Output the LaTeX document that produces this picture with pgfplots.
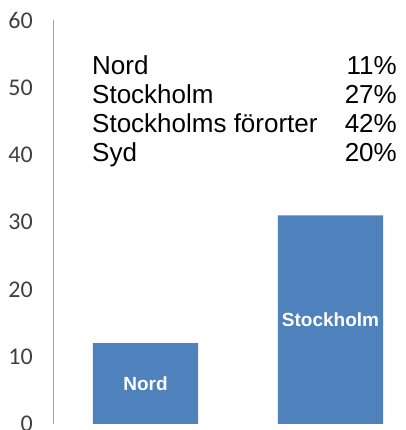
\documentclass[border=0pt]{standalone}
\usepackage{fontspec}
\setmainfont{Liberation Sans}
\newfontfamily\carlito{Carlito}
\usepackage{pgfplots}
\pgfplotsset{compat=1.18}
\definecolor{barblue}{RGB}{79,129,189}
\definecolor{axgray}{RGB}{166,166,166}
\definecolor{lblgray}{RGB}{64,64,64}
\begin{document}
\begin{tikzpicture}
\begin{axis}[
  scale only axis, width=353bp, height=404bp,
  xmin=-0.5, xmax=1.408, ymin=0, ymax=60,
  axis y line*=left, axis x line=none,
  ytick={0,10,...,60},
  major tick length=0pt,
  y axis line style={draw=axgray, line width=1pt, -},
  yticklabel style={font=\carlito\fontsize{24bp}{24bp}\selectfont, text=lblgray, anchor=east, inner sep=0pt, xshift=-20bp},
  /pgf/number format/assume math mode=true,
]
\addplot[ybar, bar width=0.568, fill=barblue, draw=none] coordinates {(0,12) (1,31)};
\addplot[draw=none, nodes near coords, point meta=explicit symbolic,
  nodes near coords style={anchor=center, text=white, inner sep=0pt, font=\bfseries\fontsize{19bp}{19bp}\selectfont}]
  coordinates {(0,6)[Nord] (1,15.5)[Stockholm]};
\end{axis}
\begin{scope}[every node/.style={inner sep=0pt, font=\fontsize{26bp}{26bp}\selectfont}]
\node[anchor=base west] at (39bp,349bp) {Nord};
\node[anchor=base west] at (39bp,320bp) {Stockholm};
\node[anchor=base west] at (39bp,291bp) {Stockholms förorter};
\node[anchor=base west] at (39bp,262bp) {Syd};
\node[anchor=base east] at (344bp,349bp) {11\%};
\node[anchor=base east] at (344bp,320bp) {27\%};
\node[anchor=base east] at (344bp,291bp) {42\%};
\node[anchor=base east] at (344bp,262bp) {20\%};
\end{scope}
\pgfresetboundingbox
\path[use as bounding box] (-53bp,-6bp) rectangle (353bp,424bp);
\end{tikzpicture}
\end{document}
